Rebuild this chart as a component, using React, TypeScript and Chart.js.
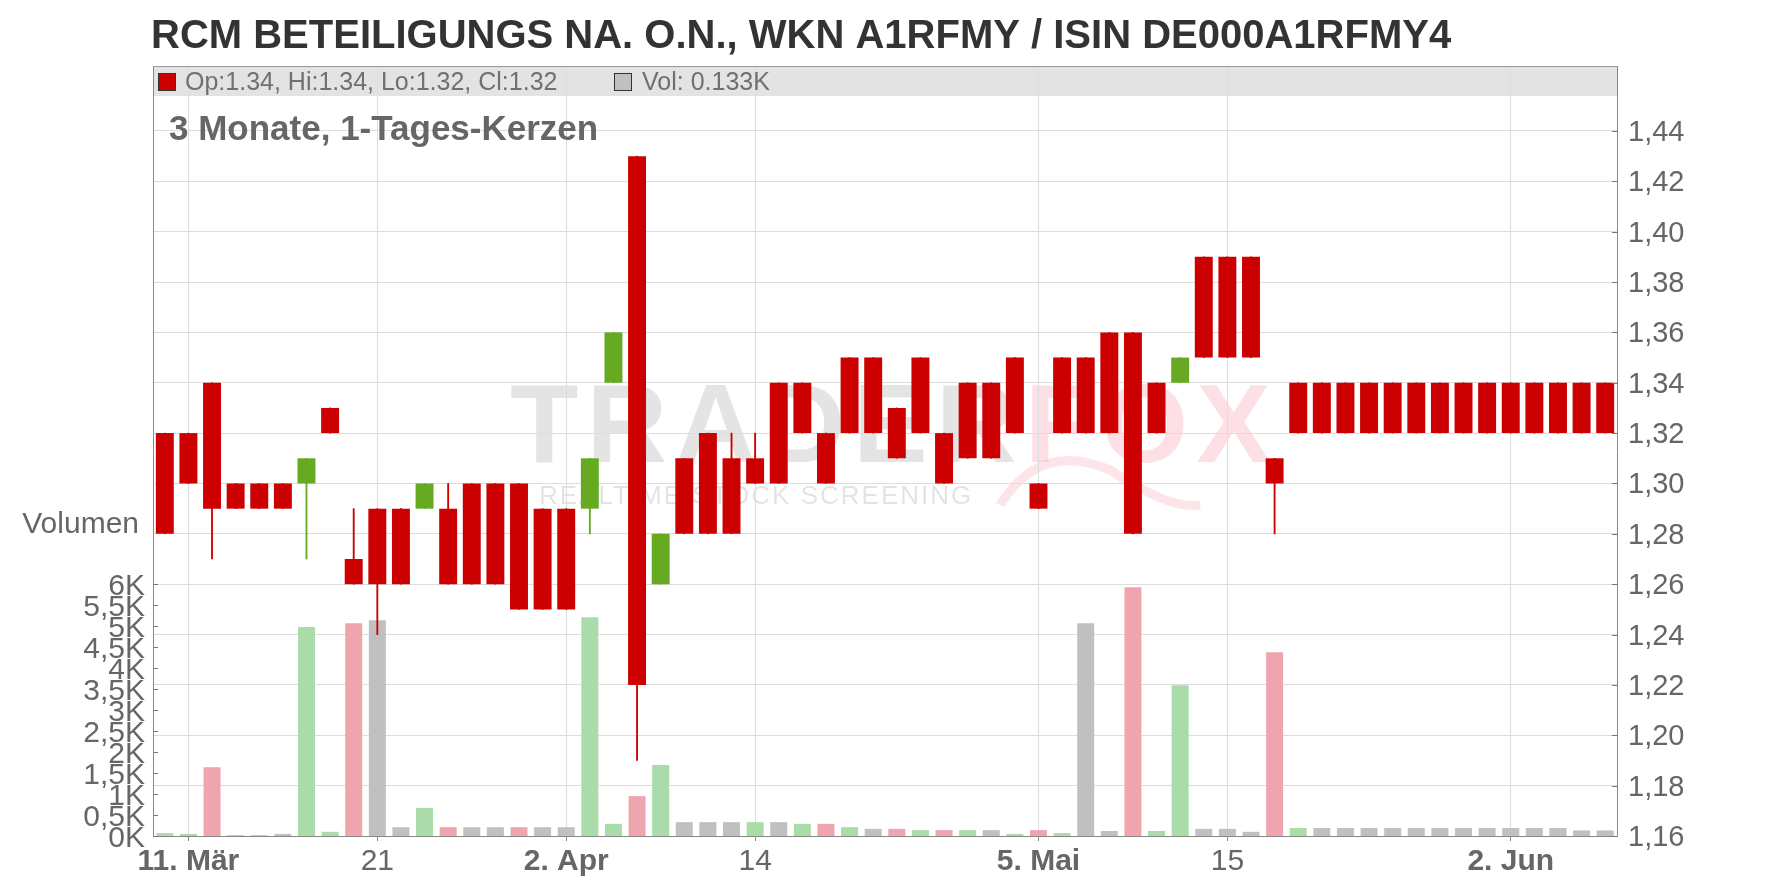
import React, { useEffect, useRef } from 'react';
import { Chart, registerables } from 'chart.js';

Chart.register(...registerables);

const TITLE = 'RCM BETEILIGUNGS NA. O.N., WKN A1RFMY / ISIN DE000A1RFMY4';
const SUBTITLE = '3 Monate, 1-Tages-Kerzen';
const LEGEND_PRICE = 'Op:1.34, Hi:1.34, Lo:1.32, Cl:1.32';
const LEGEND_VOL = 'Vol: 0.133K';
const VOLUME_LABEL = 'Volumen';
const WATERMARK_A = 'TRADER';
const WATERMARK_B = 'FOX';
const WATERMARK_SUB = 'REALTIME STOCK SCREENING';

// Trading days (2025)
const dates = [
  '10.03', '11.03', '12.03', '13.03', '14.03', '17.03', '18.03', '19.03', '20.03', '21.03',
  '24.03', '25.03', '26.03', '27.03', '28.03', '31.03', '01.04', '02.04', '03.04', '04.04',
  '07.04', '08.04', '09.04', '10.04', '11.04', '14.04', '15.04', '16.04', '17.04', '22.04',
  '23.04', '24.04', '25.04', '28.04', '29.04', '30.04', '02.05', '05.05', '06.05', '07.05',
  '08.05', '09.05', '12.05', '13.05', '14.05', '15.05', '16.05', '19.05', '20.05', '21.05',
  '22.05', '23.05', '26.05', '27.05', '28.05', '29.05', '30.05', '02.06', '03.06', '04.06',
  '05.06', '06.06',
];

const opens = [
  1.32, 1.32, 1.34, 1.30, 1.30, 1.30, 1.30, 1.33, 1.27, 1.29,
  1.29, 1.29, 1.29, 1.30, 1.30, 1.30, 1.29, 1.29, 1.29, 1.34,
  1.43, 1.26, 1.31, 1.32, 1.31, 1.31, 1.34, 1.34, 1.32, 1.35,
  1.35, 1.33, 1.35, 1.32, 1.34, 1.34, 1.35, 1.30, 1.35, 1.35,
  1.36, 1.36, 1.34, 1.34, 1.39, 1.39, 1.39, 1.31, 1.34, 1.34,
  1.34, 1.34, 1.34, 1.34, 1.34, 1.34, 1.34, 1.34, 1.34, 1.34,
  1.34, 1.34,
];
const highs = [
  1.32, 1.32, 1.34, 1.30, 1.30, 1.30, 1.31, 1.33, 1.29, 1.29,
  1.29, 1.30, 1.30, 1.30, 1.30, 1.30, 1.29, 1.29, 1.31, 1.36,
  1.43, 1.28, 1.31, 1.32, 1.32, 1.32, 1.34, 1.34, 1.32, 1.35,
  1.35, 1.33, 1.35, 1.32, 1.34, 1.34, 1.35, 1.30, 1.35, 1.35,
  1.36, 1.36, 1.34, 1.35, 1.39, 1.39, 1.39, 1.31, 1.34, 1.34,
  1.34, 1.34, 1.34, 1.34, 1.34, 1.34, 1.34, 1.34, 1.34, 1.34,
  1.34, 1.34,
];
const lows = [
  1.28, 1.30, 1.27, 1.29, 1.29, 1.29, 1.27, 1.32, 1.26, 1.24,
  1.26, 1.29, 1.26, 1.26, 1.26, 1.25, 1.25, 1.25, 1.28, 1.34,
  1.19, 1.26, 1.28, 1.28, 1.28, 1.30, 1.30, 1.32, 1.30, 1.32,
  1.32, 1.31, 1.32, 1.30, 1.31, 1.31, 1.32, 1.29, 1.32, 1.32,
  1.32, 1.28, 1.32, 1.34, 1.35, 1.35, 1.35, 1.28, 1.32, 1.32,
  1.32, 1.32, 1.32, 1.32, 1.32, 1.32, 1.32, 1.32, 1.32, 1.32,
  1.32, 1.32,
];
const closes = [
  1.28, 1.30, 1.29, 1.29, 1.29, 1.29, 1.31, 1.32, 1.26, 1.26,
  1.26, 1.30, 1.26, 1.26, 1.26, 1.25, 1.25, 1.25, 1.31, 1.36,
  1.22, 1.28, 1.28, 1.28, 1.28, 1.30, 1.30, 1.32, 1.30, 1.32,
  1.32, 1.31, 1.32, 1.30, 1.31, 1.31, 1.32, 1.29, 1.32, 1.32,
  1.32, 1.28, 1.32, 1.35, 1.35, 1.35, 1.35, 1.30, 1.32, 1.32,
  1.32, 1.32, 1.32, 1.32, 1.32, 1.32, 1.32, 1.32, 1.32, 1.32,
  1.32, 1.32,
];
const previousClose = 1.27;
const volumes = [
  70, 50, 1640, 20, 20, 50, 4980, 100, 5070, 5140,
  210, 670, 210, 210, 210, 210, 210, 210, 5210, 290,
  950, 1690, 330, 330, 330, 330, 330, 290, 290, 210,
  170, 170, 140, 140, 140, 140, 50, 140, 70, 5070,
  120, 5930, 120, 3590, 170, 170, 100, 4380, 190, 190,
  190, 190, 190, 190, 190, 190, 190, 190, 190, 190,
  133, 133,
];

const tickDates = ['11.03', '21.03', '02.04', '14.04', '05.05', '15.05', '02.06'];
const tickLabels = ['11. Mär', '21', '2. Apr', '14', '5. Mai', '15', '2. Jun'];
const priceTicks = [1.16, 1.18, 1.2, 1.22, 1.24, 1.26, 1.28, 1.3, 1.32, 1.34, 1.36, 1.38, 1.4, 1.42, 1.44];
const volumeTicks = [0, 500, 1000, 1500, 2000, 2500, 3000, 3500, 4000, 4500, 5000, 5500, 6000];

const FONT = "'Liberation Sans', Arial, sans-serif";
const RED = '#cc0000';
const GREEN = '#66aa22';
const VOL_UP = '#aadcaa';
const VOL_DOWN = '#eea5ad';
const VOL_FLAT = '#c0c0c0';

const labelForIndex = (i: number): string => {
  const k = tickDates.indexOf(dates[i]);
  return k >= 0 ? tickLabels[k] : '';
};

const overlayPlugin = {
  id: 'overlay',
  beforeDraw(chart: any) {
    const { ctx, chartArea: a } = chart;
    ctx.save();
    // legend band
    ctx.fillStyle = '#e3e3e3';
    ctx.fillRect(a.left, a.top, a.right - a.left, 30);
    // watermark
    ctx.textBaseline = 'alphabetic';
    ctx.textAlign = 'left';
    ctx.font = `bold 112px ${FONT}`;
    (ctx as any).letterSpacing = '8px';
    ctx.fillStyle = 'rgba(0,0,0,0.105)';
    ctx.fillText(WATERMARK_A, 510, 462);
    const wA = ctx.measureText(WATERMARK_A).width;
    ctx.fillStyle = 'rgba(240,50,80,0.15)';
    ctx.fillText(WATERMARK_B, 510 + wA, 462);
    // fox tail swoosh
    ctx.strokeStyle = 'rgba(240,50,80,0.13)';
    ctx.lineWidth = 9;
    ctx.beginPath();
    ctx.moveTo(1000, 505);
    ctx.quadraticCurveTo(1040, 440, 1110, 470);
    ctx.quadraticCurveTo(1170, 510, 1200, 505);
    ctx.stroke();
    ctx.font = `26px ${FONT}`;
    (ctx as any).letterSpacing = '2px';
    ctx.fillStyle = 'rgba(0,0,0,0.11)';
    ctx.fillText(WATERMARK_SUB, 539, 504);
    (ctx as any).letterSpacing = '0px';
    ctx.restore();
  },
  afterDraw(chart: any) {
    const { ctx, chartArea: a, scales } = chart;
    ctx.save();
    // top frame line
    ctx.strokeStyle = '#999';
    ctx.lineWidth = 1;
    ctx.beginPath();
    ctx.moveTo(a.left, a.top + 0.5);
    ctx.lineTo(a.right, a.top + 0.5);
    ctx.stroke();
    // inner tick marks
    ctx.strokeStyle = '#777';
    ctx.beginPath();
    priceTicks.forEach((v) => {
      const y = Math.round(scales.y.getPixelForValue(v)) + 0.5;
      ctx.moveTo(a.right - 5, y);
      ctx.lineTo(a.right, y);
    });
    volumeTicks.forEach((v) => {
      const y = Math.round(scales.yVol.getPixelForValue(v)) + 0.5;
      ctx.moveTo(a.left, y);
      ctx.lineTo(a.left + 5, y);
    });
    ctx.stroke();
    // title
    ctx.textBaseline = 'alphabetic';
    ctx.textAlign = 'left';
    ctx.fillStyle = '#333';
    ctx.font = `bold 40px ${FONT}`;
    ctx.fillText(TITLE, 151, 47.5);
    // legend
    ctx.fillStyle = RED;
    ctx.fillRect(158, 73, 18, 18);
    ctx.strokeStyle = '#333';
    ctx.strokeRect(158.5, 73.5, 17, 17);
    ctx.fillStyle = VOL_FLAT;
    ctx.fillRect(614, 73, 18, 18);
    ctx.strokeRect(614.5, 73.5, 17, 17);
    ctx.fillStyle = '#707070';
    ctx.font = `25px ${FONT}`;
    ctx.fillText(LEGEND_PRICE, 185, 90);
    ctx.fillText(LEGEND_VOL, 642, 90);
    // subtitle
    ctx.fillStyle = '#666';
    ctx.font = `bold 35px ${FONT}`;
    ctx.fillText(SUBTITLE, 169, 140);
    // volume label
    ctx.font = `30px ${FONT}`;
    ctx.textAlign = 'right';
    ctx.fillText(VOLUME_LABEL, 139, 533);
    ctx.restore();
  },
};

export default function App() {
  const ref = useRef<HTMLCanvasElement>(null);
  useEffect(() => {
    document.body.style.margin = '0';
    const bodies = opens.map((o, i) => [Math.min(o, closes[i]), Math.max(o, closes[i])]);
    const wicks = lows.map((l, i) => [l, highs[i]]);
    const candleColors = opens.map((o, i) => (closes[i] > o ? GREEN : RED));
    const volColors = closes.map((c, i) => {
      const prev = i === 0 ? previousClose : closes[i - 1];
      return c > prev + 1e-9 ? VOL_UP : c < prev - 1e-9 ? VOL_DOWN : VOL_FLAT;
    });
    const chart = new Chart(ref.current as HTMLCanvasElement, {
      type: 'bar',
      data: {
        labels: dates,
        datasets: [
          {
            label: 'Kerzen',
            data: bodies as any,
            backgroundColor: candleColors,
            yAxisID: 'y',
            grouped: false,
            categoryPercentage: 1,
            barPercentage: 0.76,
            borderWidth: 0,
            order: 1,
          } as any,
          {
            label: 'Dochte',
            data: wicks as any,
            backgroundColor: candleColors,
            yAxisID: 'y',
            grouped: false,
            barThickness: 1.2,
            borderWidth: 0,
            order: 2,
          } as any,
          {
            label: 'Volumen',
            data: volumes,
            backgroundColor: volColors,
            yAxisID: 'yVol',
            grouped: false,
            categoryPercentage: 1,
            barPercentage: 0.72,
            borderWidth: 0,
            order: 3,
          } as any,
        ],
      },
      options: {
        animation: false,
        responsive: false,
        devicePixelRatio: 1,
        layout: { padding: { top: 66, left: 0, right: 0, bottom: 0 } },
        plugins: {
          legend: { display: false },
          tooltip: { enabled: false },
          title: { display: false },
        },
        scales: {
          x: {
            type: 'category',
            offset: true,
            grid: {
              offset: false,
              color: (c: any) => (labelForIndex(c.index) ? '#dddddd' : 'rgba(0,0,0,0)'),
              tickColor: (c: any) => (labelForIndex(c.index) ? '#888888' : 'rgba(0,0,0,0)'),
              tickLength: 5,
              drawTicks: true,
            },
            border: { color: '#888', width: 1 },
            ticks: {
              autoSkip: false,
              maxRotation: 0,
              minRotation: 0,
              padding: 3,
              color: '#666',
              font: (c: any) => ({
                family: FONT,
                size: 30,
                weight: labelForIndex(c.index).indexOf('.') >= 0 ? 'bold' : 'normal',
              }),
              callback: (_v: any, i: number) => labelForIndex(i),
            },
            afterFit: (s: any) => {
              s.height = 52;
            },
          } as any,
          y: {
            type: 'linear',
            position: 'right',
            min: 1.16,
            max: 1.4658,
            afterBuildTicks: (s: any) => {
              s.ticks = priceTicks.map((v) => ({ value: v }));
            },
            grid: { color: '#dddddd', drawTicks: false },
            border: { color: '#888', width: 1 },
            ticks: {
              padding: 11,
              labelOffset: 2,
              color: '#666',
              font: { family: FONT, size: 29 },
              callback: (v: any) => Number(v).toFixed(2).replace('.', ','),
            },
            afterFit: (s: any) => {
              s.width = 159;
            },
          } as any,
          yVol: {
            type: 'linear',
            position: 'left',
            min: 0,
            max: 18348,
            afterBuildTicks: (s: any) => {
              s.ticks = volumeTicks.map((v) => ({ value: v }));
            },
            grid: { display: false, drawTicks: false },
            border: { color: '#888', width: 1 },
            ticks: {
              padding: 8,
              labelOffset: 3,
              color: '#666',
              font: { family: FONT, size: 30 },
              callback: (v: any) => (Number(v) === 0 ? '0K' : String(Number(v) / 1000).replace('.', ',') + 'K'),
            },
            afterFit: (s: any) => {
              s.width = 153;
            },
          } as any,
        },
      },
      plugins: [overlayPlugin],
    });
    return () => chart.destroy();
  }, []);
  return (
    <div style={{ position: 'absolute', left: 0, top: 0, width: 1776, height: 888 }}>
      <canvas ref={ref} width={1776} height={888} style={{ display: 'block', width: 1776, height: 888 }} />
    </div>
  );
}
